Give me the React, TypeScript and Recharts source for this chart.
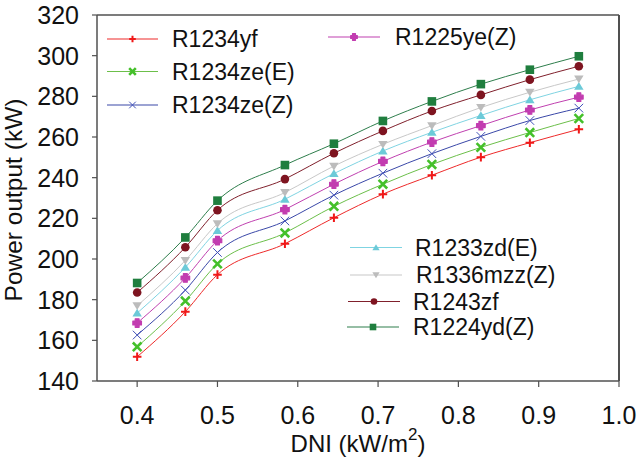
import React from 'react';
import { LineChart, Line, XAxis, YAxis, ReferenceLine, Label } from 'recharts';

const FONT = '"Liberation Sans", Arial, Helvetica, sans-serif';

// DNI (kW/m2) values of the measured points
const dni = [0.4, 0.46, 0.5, 0.584, 0.645, 0.706, 0.767, 0.828, 0.889, 0.95];

// Power output (kW) per working fluid
const r1234yf = [151.9, 174.1, 192.3, 207.5, 220.3, 231.9, 241.2, 250.1, 257.2, 263.8];
const r1234zeE = [156.8, 179.3, 197.6, 212.8, 225.9, 236.8, 246.5, 254.9, 262.2, 269.1];
const r1234zeZ = [162.6, 184.7, 203.2, 218.7, 231.4, 242.2, 251.8, 260.3, 268.1, 274.2];
const r1225yeZ = [168.5, 190.7, 209.0, 224.3, 236.8, 248.0, 257.5, 265.6, 273.3, 279.6];
const r1233zdE = [173.4, 195.9, 214.0, 229.4, 242.0, 253.1, 262.3, 270.6, 278.3, 284.9];
const r1336mzzZ = [177.0, 199.3, 217.4, 232.7, 245.7, 256.4, 265.6, 274.5, 282.0, 288.5];
const r1243zf = [183.5, 205.8, 224.0, 239.3, 252.0, 263.0, 272.8, 280.7, 288.2, 294.8];
const r1224ydZ = [188.2, 210.6, 228.7, 246.2, 256.7, 267.9, 277.5, 286.0, 293.1, 299.7];

const xTicks = [0.4, 0.5, 0.6, 0.7, 0.8, 0.9, 1.0];
const yTicks = [140, 160, 180, 200, 220, 240, 260, 280, 300, 320];

const SERIES = [
  { key: 's0', name: 'R1234yf', values: r1234yf, line: '#ee2a2a', mark: '#f01818', kind: 'plus' },
  { key: 's1', name: 'R1234ze(E)', values: r1234zeE, line: '#6cbf4a', mark: '#44c02a', kind: 'xbold' },
  { key: 's2', name: 'R1234ze(Z)', values: r1234zeZ, line: '#3a48a8', mark: '#4050b8', kind: 'xthin' },
  { key: 's3', name: 'R1225ye(Z)', values: r1225yeZ, line: '#c040b0', mark: '#c23cb0', kind: 'cross' },
  { key: 's4', name: 'R1233zd(E)', values: r1233zdE, line: '#7fd4e2', mark: '#6ccad8', kind: 'tri' },
  { key: 's5', name: 'R1336mzz(Z)', values: r1336mzzZ, line: '#c8c8c8', mark: '#bcbcbc', kind: 'tridown' },
  { key: 's6', name: 'R1243zf', values: r1243zf, line: '#80202c', mark: '#7e1420', kind: 'circle' },
  { key: 's7', name: 'R1224yd(Z)', values: r1224ydZ, line: '#2e7e4c', mark: '#1f7e3e', kind: 'square' },
];

const data = dni.map((x, i) => {
  const row: Record<string, number> = { x };
  SERIES.forEach((s) => {
    row[s.key] = s.values[i];
  });
  return row;
});

// legend layout: [line x1, line x2, row y, text x]
const LEGEND_POS: Record<string, [number, number, number, number]> = {
  R1234yf: [107, 158, 39, 172],
  'R1234ze(E)': [107, 158, 71.5, 172],
  'R1234ze(Z)': [107, 158, 105, 172],
  'R1225ye(Z)': [328, 380, 37, 395],
  'R1233zd(E)': [350, 402, 247.5, 415],
  'R1336mzz(Z)': [350, 402, 275, 416],
  R1243zf: [348, 400, 301.5, 413],
  'R1224yd(Z)': [347, 399, 327, 413],
};

type MarkerProps = { cx?: number; cy?: number; kind: string; color: string; r: number };

function Marker({ cx, cy, kind, color, r }: MarkerProps) {
  if (cx == null || cy == null) return null;
  switch (kind) {
    case 'plus':
      return (
        <path d={`M${cx - r},${cy}H${cx + r}M${cx},${cy - r}V${cy + r}`} stroke={color} strokeWidth={2} fill="none" />
      );
    case 'xbold':
      return (
        <path
          d={`M${cx - r},${cy - r}L${cx + r},${cy + r}M${cx - r},${cy + r}L${cx + r},${cy - r}`}
          stroke={color}
          strokeWidth={2.6}
          fill="none"
        />
      );
    case 'xthin':
      return (
        <path
          d={`M${cx - r},${cy - r}L${cx + r},${cy + r}M${cx - r},${cy + r}L${cx + r},${cy - r}`}
          stroke={color}
          strokeWidth={1}
          fill="none"
        />
      );
    case 'cross': {
      const a = r * 0.45;
      return (
        <path
          d={`M${cx - a},${cy - r}H${cx + a}V${cy - a}H${cx + r}V${cy + a}H${cx + a}V${cy + r}H${cx - a}V${cy + a}H${cx - r}V${cy - a}H${cx - a}Z`}
          fill={color}
          stroke={color}
          strokeWidth={1.2}
          strokeLinejoin="round"
        />
      );
    }
    case 'tri':
      return (
        <polygon
          points={`${cx},${cy - r} ${cx + r * 1.1},${cy + r * 0.8} ${cx - r * 1.1},${cy + r * 0.8}`}
          fill={color}
        />
      );
    case 'tridown':
      return (
        <polygon
          points={`${cx},${cy + r} ${cx + r * 1.1},${cy - r * 0.8} ${cx - r * 1.1},${cy - r * 0.8}`}
          fill={color}
        />
      );
    case 'circle':
      return <circle cx={cx} cy={cy} r={r} fill={color} />;
    case 'square':
      return <rect x={cx - r} y={cy - r} width={2 * r} height={2 * r} fill={color} />;
    default:
      return null;
  }
}

const AXIS = '#505050';

export default function App() {
  return (
    <div style={{ position: 'absolute', left: 0, top: 0, width: 640, height: 468, background: '#fff', fontFamily: FONT }}>
      <LineChart width={640} height={468} data={data} margin={{ top: 15, right: 21, bottom: 0, left: 0 }}>
        <XAxis
          dataKey="x"
          type="number"
          domain={[0.35, 1.0]}
          ticks={xTicks}
          allowDataOverflow
          height={87}
          tickFormatter={(v: number) => v.toFixed(1)}
          tickSize={6}
          tickMargin={19}
          axisLine={{ stroke: AXIS, strokeWidth: 1.5 }}
          tickLine={{ stroke: AXIS, strokeWidth: 1.2 }}
          tick={{ fill: '#111', fontSize: 25, fontFamily: FONT }}
        >
          <Label
            content={() => (
              <text x={358} y={452} textAnchor="middle" fill="#111" fontSize={24} fontFamily={FONT}>
                DNI (kW/m
                <tspan fontSize={17} dy={-12}>2</tspan>
                <tspan dy={12}>)</tspan>
              </text>
            )}
          />
        </XAxis>
        <YAxis
          type="number"
          domain={[140, 320]}
          ticks={yTicks}
          allowDataOverflow
          width={97}
          tickSize={5}
          tickMargin={13}
          axisLine={{ stroke: AXIS, strokeWidth: 1.5 }}
          tickLine={{ stroke: AXIS, strokeWidth: 1.2 }}
          tick={{ fill: '#111', fontSize: 25, fontFamily: FONT }}
        >
          <Label
            content={() => (
              <text
                x={22}
                y={200}
                transform="rotate(-90 22 200)"
                textAnchor="middle"
                fill="#111"
                fontSize={24.5}
                fontFamily={FONT}
              >
                Power output (kW)
              </text>
            )}
          />
        </YAxis>
        <ReferenceLine y={320} stroke={AXIS} strokeWidth={1.5} />
        <ReferenceLine x={1.0} stroke={AXIS} strokeWidth={2} />
        {SERIES.map((s) => (
          <Line
            key={s.key}
            dataKey={s.key}
            name={s.name}
            type="monotone"
            stroke={s.line}
            strokeWidth={1}
            isAnimationActive={false}
            dot={(p: any) => (
              <Marker key={`${s.key}-${p.index}`} cx={p.cx} cy={p.cy} kind={s.kind} color={s.mark} r={4.3} />
            )}
            activeDot={false}
          />
        ))}
      </LineChart>
      <svg width={640} height={468} style={{ position: 'absolute', left: 0, top: 0, pointerEvents: 'none' }}>
        {SERIES.map((s) => {
          const [x1, x2, y, tx] = LEGEND_POS[s.name];
          const mx = (x1 + x2) / 2;
          return (
            <g key={s.key}>
              <line x1={x1} x2={x2} y1={y} y2={y} stroke={s.line} strokeWidth={1.2} />
              <Marker cx={mx} cy={y} kind={s.kind} color={s.mark} r={3.3} />
              <text x={tx} y={y} dy="0.36em" fontSize={23} fill="#111" fontFamily={FONT}>
                {s.name}
              </text>
            </g>
          );
        })}
      </svg>
    </div>
  );
}
